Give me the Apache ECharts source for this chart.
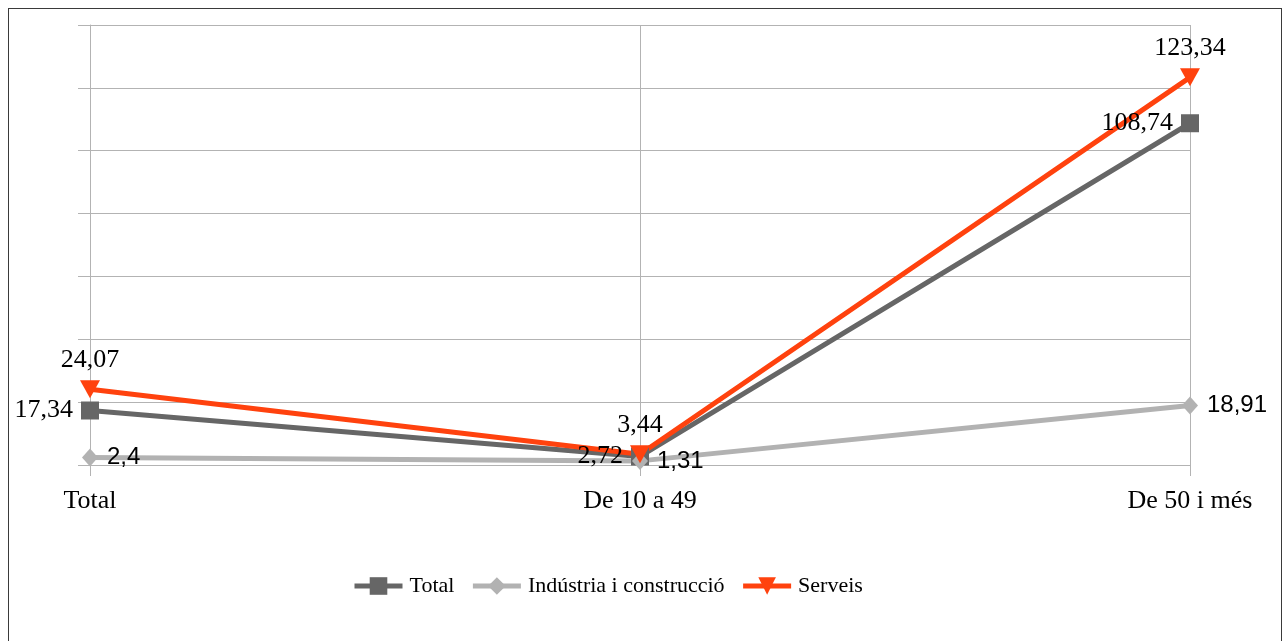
<!DOCTYPE html>
<html>
<head>
<meta charset="utf-8">
<script src="https://cdn.jsdelivr.net/npm/echarts@6/dist/echarts.min.js"></script>
<style>
  html, body { margin: 0; padding: 0; background: #fff; }
  #chart { position: absolute; left: 0; top: 0; width: 1283px; height: 641px; }
  #frame { position: absolute; left: 8px; top: 8px; width: 1272px; height: 700px;
           border: 1px solid #3a3a3a; pointer-events: none; }
</style>
</head>
<body>
<div id="chart"></div>
<div id="frame"></div>
<script>
    var categories = ['Total', 'De 10 a 49', 'De 50 i més'];
    var totalValues = [17.34, 2.72, 108.74];
    var industriaValues = [2.4, 1.31, 18.91];
    var serveisValues = [24.07, 3.44, 123.34];

    var gridColor = '#b3b3b3';
    var serif = '"Liberation Serif", "DejaVu Serif", serif';
    var sans = '"Liberation Sans", "DejaVu Sans", sans-serif';

    function fmt(p) {
        return String(p.value).replace('.', ',');
    }

    var option = {
        animation: false,
        backgroundColor: '#fff',
        grid: { left: 90, right: 93, top: 25, bottom: 176 },
        legend: {
            top: 575,
            left: 352,
            padding: 0,
            itemWidth: 48,
            itemHeight: 22,
            itemGap: 16,
            lineStyle: { width: 5 },
            textStyle: { fontFamily: serif, fontSize: 22, color: '#000', padding: [0, 0, 0, 2] },
            data: ['Total', 'Indústria i construcció', 'Serveis']
        },
        xAxis: {
            type: 'category',
            boundaryGap: false,
            data: categories,
            axisLine: { show: false },
            axisTick: { show: true, length: 11, lineStyle: { color: gridColor } },
            splitLine: { show: true, lineStyle: { color: gridColor, width: 1 } },
            axisLabel: { fontFamily: serif, fontSize: 26, color: '#000', margin: 23 }
        },
        yAxis: {
            type: 'value',
            min: 0,
            max: 140,
            interval: 20,
            axisLine: { show: true, lineStyle: { color: gridColor } },
            axisTick: { show: true, length: 12, lineStyle: { color: gridColor } },
            axisLabel: { show: false },
            splitLine: { show: true, lineStyle: { color: gridColor, width: 1 } }
        },
        series: [
            {
                name: 'Total',
                type: 'line',
                data: totalValues,
                symbol: 'rect',
                symbolSize: 18,
                itemStyle: { color: '#666666' },
                lineStyle: { color: '#666666', width: 5 },
                label: {
                    show: true, position: 'left', distance: 8,
                    formatter: fmt, fontFamily: serif, fontSize: 26, color: '#000'
                }
            },
            {
                name: 'Indústria i construcció',
                type: 'line',
                data: industriaValues,
                symbol: 'diamond',
                symbolSize: [16, 18],
                itemStyle: { color: '#b2b2b2' },
                lineStyle: { color: '#b2b2b2', width: 5 },
                label: {
                    show: true, position: 'right', distance: 9,
                    formatter: fmt, fontFamily: sans, fontSize: 24, color: '#000'
                }
            },
            {
                name: 'Serveis',
                type: 'line',
                data: serveisValues,
                symbol: 'triangle',
                symbolRotate: 180,
                symbolSize: [20, 18],
                itemStyle: { color: '#ff420e' },
                lineStyle: { color: '#ff420e', width: 5 },
                label: {
                    show: true, position: 'top', distance: 7,
                    formatter: fmt, fontFamily: serif, fontSize: 26, color: '#000'
                }
            }
        ]
    };

    var chart = echarts.init(document.getElementById('chart'));
    chart.setOption(option);
    window.addEventListener('resize', function () {
        chart.resize();
    });
</script>
</body>
</html>
